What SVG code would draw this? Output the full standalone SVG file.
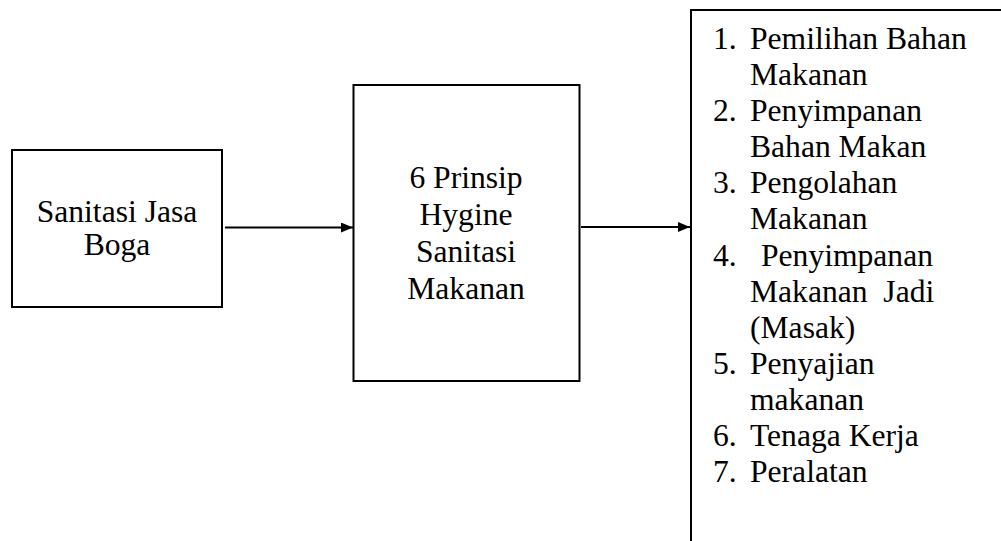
<svg xmlns="http://www.w3.org/2000/svg" width="1001" height="541" viewBox="0 0 1001 541">
<style>
.box{fill:#fff;stroke:#000;stroke-width:2}
.t{font-size:31.6px;fill:#000}
.c{text-anchor:middle}
.edge{stroke:#000;stroke-width:2;fill:none}
</style>
<defs>
<marker id="ah" markerWidth="12" markerHeight="10" refX="12" refY="5" orient="auto" markerUnits="userSpaceOnUse">
<path d="M0,0 L12,5 L0,10 Z" fill="#000"/>
</marker>
</defs>
<rect width="1001" height="541" fill="#fff"/>
<g id="connectors">
<line class="edge" x1="225" y1="227.5" x2="353" y2="227.5" marker-end="url(#ah)"/>
<line class="edge" x1="581" y1="227" x2="690" y2="227" marker-end="url(#ah)"/>
</g>
<g font-family="'Liberation Serif', 'Times New Roman', Times, 'DejaVu Serif', serif">
<g id="node-sanitasi">
<rect class="box" x="12" y="150" width="210" height="157"/>
<text class="t c" x="117" y="221.7">Sanitasi Jasa</text>
<text class="t c" x="117" y="255">Boga</text>
</g>
<g id="node-prinsip">
<rect class="box" x="353.5" y="85" width="226" height="296"/>
<text class="t c" x="466" y="188.3">6 Prinsip</text>
<text class="t c" x="466" y="225">Hygine</text>
<text class="t c" x="466" y="262">Sanitasi</text>
<text class="t c" x="466" y="298.5">Makanan</text>
</g>
<g id="node-list">
<rect class="box" x="691" y="10" width="400" height="600"/>
<text class="t" x="713" y="49">1.</text><text class="t" x="750" y="49">Pemilihan Bahan</text>
<text class="t" x="750" y="85">Makanan</text>
<text class="t" x="713" y="121">2.</text><text class="t" x="750" y="121">Penyimpanan</text>
<text class="t" x="750" y="157">Bahan Makan</text>
<text class="t" x="713" y="193">3.</text><text class="t" x="750" y="193">Pengolahan</text>
<text class="t" x="750" y="229">Makanan</text>
<text class="t" x="713" y="266">4.</text><text class="t" x="761" y="266">Penyimpanan</text>
<text class="t" x="750" y="302" xml:space="preserve">Makanan  Jadi</text>
<text class="t" x="750" y="338">(Masak)</text>
<text class="t" x="713" y="374">5.</text><text class="t" x="750" y="374">Penyajian</text>
<text class="t" x="750" y="410">makanan</text>
<text class="t" x="713" y="446">6.</text><text class="t" x="750" y="446">Tenaga Kerja</text>
<text class="t" x="713" y="482">7.</text><text class="t" x="750" y="482">Peralatan</text>
</g>
</g>
</svg>
